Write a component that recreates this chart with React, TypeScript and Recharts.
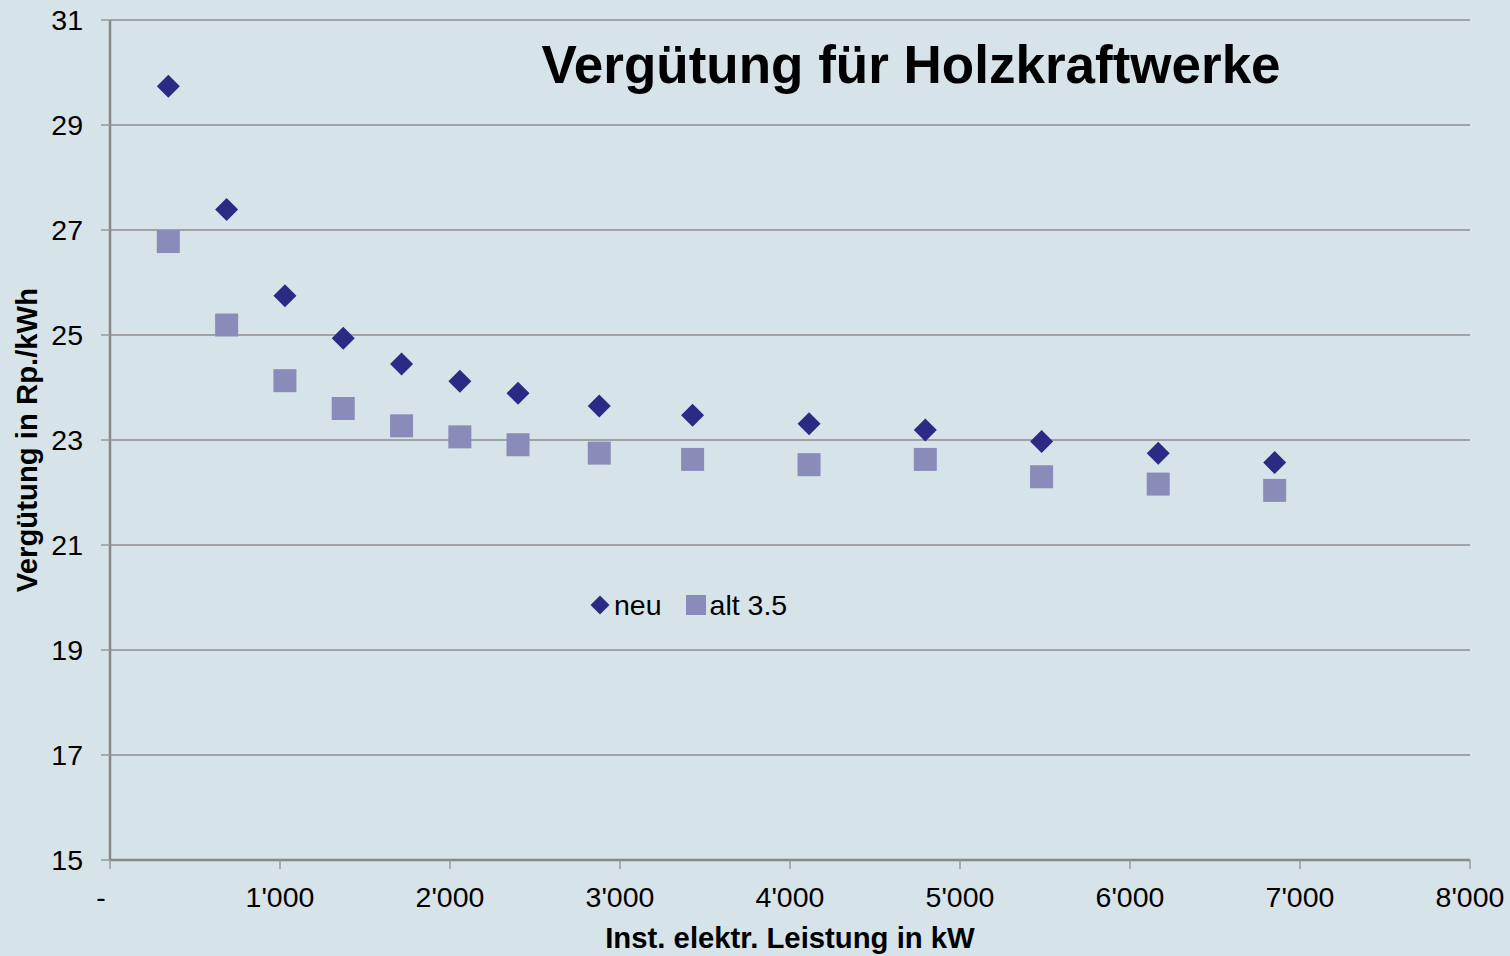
import React from 'react';
import {
    ScatterChart,
    Scatter,
    XAxis,
    YAxis,
    CartesianGrid
} from 'recharts';

// Installed electrical power (kW) of each plant category
const leistungKW = [343, 686, 1029, 1372, 1715, 2058, 2400, 2878, 3427, 4112, 4796, 5480, 6166, 6851];
// Feed-in tariff in Rp./kWh
const neuValues = [29.74, 27.39, 25.75, 24.94, 24.45, 24.12, 23.89, 23.65, 23.47, 23.31, 23.19, 22.97, 22.75, 22.57];
const altValues = [26.78, 25.19, 24.13, 23.60, 23.27, 23.06, 22.91, 22.75, 22.63, 22.53, 22.63, 22.30, 22.16, 22.04];

const xTicks = [0, 1000, 2000, 3000, 4000, 5000, 6000, 7000, 8000];
const yTicks = [15, 17, 19, 21, 23, 25, 27, 29, 31];

const seriesNames = ['neu', 'alt 3.5'];
const titleText = 'Vergütung für Holzkraftwerke';
const xLabel = 'Inst. elektr. Leistung in kW';
const yLabel = 'Vergütung in Rp./kWh';

const NEU_COLOR = '#2b2b86';
const ALT_COLOR = '#8b8bb9';
const BG = '#d6e3e8';
const FONT = '"Liberation Sans", Arial, sans-serif';

const neuData = leistungKW.map((x, i) => ({ x, y: neuValues[i] }));
const altData = leistungKW.map((x, i) => ({ x, y: altValues[i] }));

const fmtThousands = (v: number) =>
    v === 0 ? '-' : String(v).replace(/\B(?=(\d{3})+(?!\d))/g, "'");

const DiamondShape = (props: any) => {
    const { cx, cy } = props;
    const r = 11.5;
    return (
        <polygon
            points={`${cx},${cy - r} ${cx + r},${cy} ${cx},${cy + r} ${cx - r},${cy}`}
            fill={NEU_COLOR}
        />
    );
};

const SquareShape = (props: any) => {
    const { cx, cy } = props;
    const s = 23;
    return <rect x={cx - s / 2} y={cy - s / 2} width={s} height={s} fill={ALT_COLOR} />;
};

const XTick = (props: any) => {
    const { x, y, payload } = props;
    const isZero = payload.value === 0;
    return (
        <text
            x={isZero ? x - 9 : x}
            y={y}
            dy="0.71em"
            textAnchor="middle"
            fill="#000"
            fontSize={28.5}
        >
            {fmtThousands(payload.value)}
        </text>
    );
};

// legend sits inside the plot area, drawn as an overlay so it takes no layout space
const ChartLegend = () => (
    <div
        style={{
            position: 'absolute',
            left: 590,
            top: 588,
            display: 'flex',
            alignItems: 'center',
            fontSize: 28.5,
            lineHeight: '34px',
            color: '#000'
        }}
    >
        <svg width={20} height={20} style={{ marginRight: 4 }}>
            <polygon points="10,0.5 19.5,10 10,19.5 0.5,10" fill={NEU_COLOR} />
        </svg>
        <span style={{ marginRight: 24 }}>{seriesNames[0]}</span>
        <svg width={20} height={20} style={{ marginRight: 4 }}>
            <rect x={0} y={0} width={20} height={20} fill={ALT_COLOR} />
        </svg>
        <span>{seriesNames[1]}</span>
    </div>
);

export default function App() {
    return (
        <div
            style={{
                position: 'absolute',
                left: 0,
                top: 0,
                width: 1510,
                height: 956,
                background: BG,
                fontFamily: FONT,
                overflow: 'hidden'
            }}
        >
            <ScatterChart
                width={1510}
                height={956}
                margin={{ top: 20, right: 40, bottom: 0, left: 0 }}
            >
                <CartesianGrid vertical={false} stroke="#8e8e8e" strokeWidth={1.5} />
                <XAxis
                    type="number"
                    dataKey="x"
                    domain={[0, 8000]}
                    ticks={xTicks}
                    height={96}
                    tickSize={9}
                    tickMargin={18}
                    tick={<XTick />}
                    axisLine={{ stroke: '#888', strokeWidth: 2.5 }}
                    tickLine={{ stroke: '#999', strokeWidth: 1.5 }}
                    label={{
                        value: xLabel,
                        position: 'insideBottom',
                        offset: 8,
                        style: { fontWeight: 'bold', fontSize: 29.3, fill: '#000' }
                    }}
                />
                <YAxis
                    type="number"
                    dataKey="y"
                    domain={[15, 31]}
                    ticks={yTicks}
                    width={110}
                    tickSize={9}
                    tickMargin={18}
                    tick={{ fill: '#000', fontSize: 28.5 }}
                    axisLine={{ stroke: '#888', strokeWidth: 2.5 }}
                    tickLine={{ stroke: '#999', strokeWidth: 1.5 }}
                    label={{
                        value: yLabel,
                        angle: -90,
                        position: 'insideLeft',
                        offset: 27,
                        style: { textAnchor: 'middle', fontWeight: 'bold', fontSize: 29.3, fill: '#000' }
                    }}
                />
                <Scatter
                    name={seriesNames[1]}
                    data={altData}
                    shape={<SquareShape />}
                    isAnimationActive={false}
                />
                <Scatter
                    name={seriesNames[0]}
                    data={neuData}
                    shape={<DiamondShape />}
                    isAnimationActive={false}
                />
            </ScatterChart>
            <div
                style={{
                    position: 'absolute',
                    left: 511,
                    top: 38,
                    width: 800,
                    textAlign: 'center',
                    fontSize: 53,
                    lineHeight: 1,
                    fontWeight: 'bold',
                    color: '#000',
                    whiteSpace: 'nowrap'
                }}
            >
                {titleText}
            </div>
            <ChartLegend />
        </div>
    );
}
